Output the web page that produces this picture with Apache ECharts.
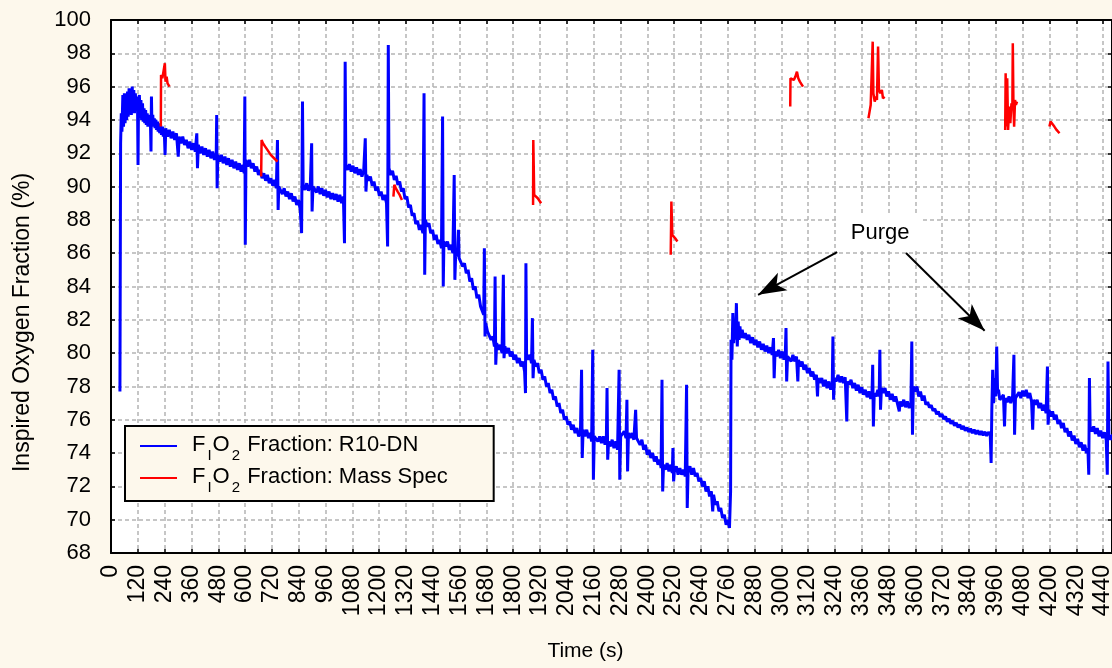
<!DOCTYPE html>
<html>
<head>
<meta charset="utf-8">
<title>Inspired Oxygen Fraction</title>
<script src="https://cdn.jsdelivr.net/npm/echarts@6.0.0/dist/echarts.min.js"></script>
<style>
  html, body { margin: 0; padding: 0; background: #fdf8ec; }
  #chart { width: 1112px; height: 668px; }
</style>
</head>
<body>
<div id="chart"></div>
<script>
const FONT = '"Liberation Sans", Arial, Helvetica, sans-serif';
const BG = '#fdf8ec';

// axis ranges
const X_MIN = 0, X_MAX = 4480, X_STEP = 120;
const Y_MIN = 68, Y_MAX = 100, Y_STEP = 2;

const seriesNames = ['R10-DN', 'Mass Spec'];

// FIO2 from the R10-DN sensor: [time (s), fraction (%)]
const r10dn = [
  [40,77.7],[43,92.6],[46,94.4],[49,93.3],[53,95.5],[56,93.6],[60,95.6],[63,93.8],[67,95.2],[70,94.0],
  [74,95.7],[77,94.2],[81,95.9],[84,94.5],[88,95.7],[91,94.3],[95,96.0],[98,94.6],[102,95.8],[105,94.4],
  [109,95.6],[112,94.7],[116,95.4],[119,94.5],[121,91.3],[123,94.8],[127,95.5],[130,94.1],[134,95.2],[137,94.0],
  [141,95.0],[144,93.9],[148,94.7],[151,93.8],[155,94.6],[158,93.7],[162,94.4],[165,93.6],[169,94.3],[172,93.9],
  [176,94.2],[179,92.1],[181,95.4],[183,93.8],[187,94.3],[190,93.6],[194,94.1],[197,93.5],[201,94.0],[204,93.4],
  [208,93.9],[211,93.3],[215,93.8],[218,93.2],[222,93.7],[226,93.1],[230,93.6],[234,93.0],[238,93.5],[242,91.9],
  [245,93.5],[253,93.0],[261,93.4],[269,92.9],[277,93.3],[285,92.8],[293,93.2],[301,91.8],[305,93.0],[313,92.6],
  [321,93.0],[329,92.5],[337,92.8],[345,92.3],[353,92.7],[361,92.2],[369,92.6],[377,92.1],[384,93.2],[387,91.1],
  [391,92.5],[399,92.0],[407,92.4],[415,91.9],[423,92.3],[431,91.8],[439,92.2],[447,91.7],[455,92.1],[463,91.6],
  [471,92.0],[473,94.3],[475,89.9],[478,91.9],[486,91.5],[494,91.9],[502,91.4],[510,91.8],[518,91.3],[526,91.7],
  [534,91.2],[542,91.6],[550,91.1],[558,91.5],[566,91.0],[574,91.4],[582,90.9],[590,91.3],[596,90.8],[599,95.4],
  [601,86.5],[604,91.6],[612,91.2],[620,91.6],[628,91.1],[636,91.4],[644,90.9],[652,91.2],[660,90.7],[668,91.0],
  [676,90.5],[684,90.8],[692,90.35],[700,90.7],[708,90.2],[716,90.5],[724,90.05],[732,90.4],[740,89.9],[745,92.8],
  [748,88.6],[751,90.0],[759,90.05],[767,89.55],[775,89.9],[783,89.4],[791,89.7],[799,89.25],[807,89.6],[815,89.1],
  [823,89.4],[831,88.9],[839,89.2],[847,88.6],[853,87.2],[857,95.1],[860,90.1],[868,89.8],[876,90.2],[884,89.75],
  [892,90.1],[898,92.6],[900,88.5],[904,90.0],[912,90.1],[920,89.65],[928,90.0],[936,89.55],[944,89.9],[952,89.45],
  [960,89.8],[968,89.35],[976,89.7],[984,89.25],[992,89.6],[1000,89.2],[1008,89.55],[1016,89.1],[1024,89.5],[1032,89.0],
  [1040,89.4],[1045,86.6],[1048,97.5],[1051,91.3],[1059,91.0],[1067,91.35],[1075,90.9],[1083,91.25],[1091,90.8],[1099,91.15],
  [1107,90.7],[1115,91.05],[1123,90.6],[1131,90.95],[1138,92.9],[1141,89.7],[1145,90.7],[1153,90.35],[1161,90.6],[1169,90.05],
  [1177,90.3],[1185,89.75],[1193,90.0],[1201,89.45],[1209,89.7],[1217,89.2],[1225,89.5],[1233,89.0],[1238,86.4],[1241,98.5],
  [1244,91.1],[1252,90.7],[1260,90.95],[1268,90.4],[1276,90.65],[1284,90.1],[1292,90.3],[1300,89.7],[1308,89.9],[1316,89.25],
  [1324,89.4],[1332,88.75],[1340,88.9],[1348,88.25],[1356,88.4],[1364,87.75],[1372,87.95],[1380,87.4],[1388,87.7],[1396,87.2],
  [1401,95.6],[1404,84.7],[1407,88.0],[1415,87.6],[1423,87.8],[1431,87.2],[1439,87.4],[1447,86.8],[1455,87.1],[1463,86.55],
  [1471,86.8],[1479,86.3],[1484,94.2],[1487,84.0],[1490,86.7],[1498,86.4],[1506,86.7],[1514,86.2],[1522,86.5],[1530,86.0],
  [1536,90.7],[1539,84.4],[1543,86.1],[1550,85.8],[1555,87.4],[1558,85.7],[1566,85.8],[1574,85.2],[1582,85.4],[1590,84.8],
  [1598,85.0],[1606,84.3],[1614,84.5],[1622,83.8],[1630,84.0],[1638,83.3],[1646,83.5],[1654,82.8],[1662,82.9],[1668,82.3],
  [1671,86.3],[1674,81.0],[1677,81.8],[1685,81.3],[1693,81.4],[1701,80.8],[1709,81.0],[1716,80.4],[1719,84.6],[1722,79.3],
  [1726,80.6],[1734,80.2],[1742,80.5],[1750,80.0],[1756,84.7],[1759,79.7],[1763,80.4],[1771,80.0],[1779,80.3],[1787,79.8],
  [1795,80.1],[1803,79.6],[1811,79.9],[1819,79.4],[1827,79.7],[1835,79.2],[1843,79.5],[1851,78.9],[1855,77.6],[1857,85.4],
  [1860,79.9],[1867,79.6],[1875,79.9],[1882,79.4],[1886,82.1],[1889,78.5],[1893,79.6],[1901,79.2],[1909,79.4],[1917,78.8],
  [1925,79.0],[1933,78.4],[1941,78.6],[1949,78.0],[1957,78.2],[1965,77.6],[1973,77.8],[1981,77.2],[1989,77.4],[1997,76.8],
  [2005,77.0],[2013,76.4],[2021,76.6],[2029,76.0],[2037,76.2],[2045,75.7],[2053,75.9],[2061,75.4],[2069,75.7],[2077,75.2],
  [2085,75.5],[2093,75.0],[2101,75.3],[2106,79.0],[2109,73.7],[2113,75.4],[2121,75.0],[2129,75.4],[2137,74.9],[2145,75.2],
  [2151,74.7],[2156,80.2],[2159,72.4],[2163,75.0],[2171,75.1],[2179,74.7],[2187,75.0],[2195,74.6],[2203,75.0],[2211,74.5],
  [2217,74.9],[2220,77.9],[2223,73.6],[2227,74.7],[2235,74.4],[2243,74.8],[2251,74.3],[2259,74.7],[2267,74.2],[2274,79.0],
  [2277,72.4],[2281,75.0],[2289,74.9],[2297,75.3],[2305,74.9],[2309,77.2],[2312,72.9],[2316,75.2],[2324,74.9],[2332,75.2],
  [2340,74.8],[2348,76.6],[2352,74.9],[2360,75.0],[2368,74.5],[2376,74.8],[2384,74.2],[2392,74.5],[2400,73.9],[2408,74.2],
  [2416,73.7],[2424,74.0],[2432,73.5],[2440,73.8],[2448,73.3],[2456,73.6],[2462,73.1],[2466,78.4],[2469,71.7],[2473,73.3],
  [2481,73.0],[2489,73.4],[2497,72.9],[2505,73.3],[2512,72.8],[2515,74.3],[2518,72.3],[2522,73.0],[2530,73.2],[2538,72.7],
  [2546,73.1],[2554,72.7],[2562,73.0],[2570,72.6],[2576,78.1],[2579,70.7],[2583,73.0],[2591,73.2],[2599,72.7],[2607,73.1],
  [2615,72.6],[2623,72.8],[2631,72.3],[2639,72.5],[2647,72.0],[2655,72.3],[2663,71.7],[2671,72.0],[2679,71.4],[2687,71.7],
  [2693,70.5],[2697,71.5],[2705,70.9],[2713,71.1],[2721,70.5],[2729,70.7],[2737,70.1],[2745,70.3],[2753,69.7],[2761,70.0],
  [2768,69.5],[2771,69.4],[2773,71.7],[2775,80.8],[2779,79.6],[2783,82.4],[2787,80.6],[2791,82.0],[2795,80.8],[2799,83.0],
  [2803,80.4],[2807,81.9],[2811,80.8],[2815,81.6],[2819,80.9],[2825,81.4],[2831,80.9],[2839,81.2],[2847,80.8],[2855,81.1],
  [2863,80.6],[2871,80.95],[2879,80.5],[2887,80.8],[2895,80.35],[2903,80.7],[2911,80.2],[2919,80.55],[2927,80.1],[2935,80.45],
  [2943,80.0],[2951,80.35],[2959,79.9],[2965,80.9],[2968,78.5],[2972,80.1],[2980,79.8],[2988,80.2],[2996,79.7],[3004,80.1],
  [3012,79.6],[3018,80.0],[3021,81.5],[3024,78.3],[3028,79.8],[3036,79.9],[3044,79.5],[3052,79.9],[3060,79.5],[3068,79.8],
  [3074,78.3],[3077,79.6],[3085,79.2],[3093,79.5],[3101,79.0],[3109,79.3],[3117,78.8],[3125,79.1],[3133,78.6],[3141,78.9],
  [3149,78.4],[3157,78.7],[3162,77.4],[3165,78.5],[3173,78.2],[3181,78.5],[3189,78.0],[3197,78.4],[3205,77.9],[3213,78.3],
  [3221,77.8],[3228,78.2],[3231,81.0],[3234,77.2],[3238,78.5],[3246,78.3],[3254,78.7],[3262,78.25],[3270,78.6],[3278,78.2],
  [3286,78.55],[3293,75.9],[3296,78.3],[3304,78.1],[3312,78.4],[3320,77.9],[3328,78.2],[3336,77.75],[3344,78.1],[3352,77.6],
  [3360,77.95],[3368,77.5],[3376,77.8],[3384,77.35],[3392,77.7],[3400,77.25],[3406,77.6],[3409,79.3],[3412,75.6],[3416,77.6],
  [3424,77.4],[3432,77.8],[3438,77.4],[3441,80.2],[3444,76.6],[3448,77.9],[3456,77.6],[3464,77.9],[3472,77.4],[3480,77.7],
  [3488,77.2],[3496,77.55],[3504,77.1],[3512,77.4],[3520,76.95],[3528,76.5],[3532,77.1],[3540,76.8],[3548,77.2],[3556,76.75],
  [3564,77.1],[3572,76.7],[3580,77.0],[3584,80.7],[3587,75.1],[3591,78.0],[3599,77.7],[3607,78.0],[3615,77.4],[3623,77.7],
  [3631,77.15],[3639,77.45],[3647,76.9],[3655,77.07],[3663,76.73],[3671,76.87],[3679,76.53],[3687,76.67],[3695,76.33],[3703,76.49],
  [3711,76.18],[3719,76.34],[3727,76.03],[3735,76.2],[3743,75.88],[3751,76.06],[3759,75.76],[3767,75.94],[3775,75.64],[3783,75.82],
  [3791,75.53],[3799,75.72],[3807,75.43],[3815,75.62],[3823,75.34],[3831,75.54],[3839,75.26],[3847,75.47],[3855,75.2],[3863,75.41],
  [3871,75.14],[3879,75.36],[3887,75.1],[3895,75.32],[3903,75.06],[3911,75.28],[3919,75.03],[3927,75.26],[3935,75.1],[3939,73.4],
  [3942,76.5],[3946,79.0],[3950,77.0],[3955,78.5],[3960,77.4],[3964,80.4],[3968,77.6],[3972,77.8],[3978,77.2],[3986,77.1],
  [3994,77.5],[3999,75.6],[4003,77.3],[4011,77.05],[4019,77.4],[4027,77.0],[4035,77.4],[4041,79.9],[4044,75.1],[4048,77.3],
  [4056,77.2],[4064,77.65],[4072,77.3],[4080,77.75],[4088,77.4],[4096,77.8],[4104,77.3],[4112,77.6],[4120,77.1],[4125,75.4],
  [4129,77.2],[4137,76.9],[4145,77.2],[4153,76.7],[4161,77.0],[4169,76.55],[4177,76.9],[4185,76.4],[4191,79.2],[4194,75.7],
  [4198,76.6],[4206,76.2],[4214,76.5],[4222,76.0],[4230,76.3],[4238,75.75],[4246,76.0],[4254,75.5],[4262,75.8],[4270,75.25],
  [4278,75.5],[4286,75.0],[4294,75.3],[4302,74.75],[4310,75.05],[4318,74.55],[4326,74.85],[4334,74.35],[4342,74.65],[4350,74.15],
  [4358,74.5],[4366,74.0],[4372,74.3],[4376,72.7],[4379,78.5],[4382,75.6],[4390,75.3],[4398,75.6],[4406,75.15],[4414,75.5],
  [4422,75.0],[4430,75.35],[4438,74.9],[4446,75.25],[4454,74.8],[4459,72.7],[4462,79.5],[4466,75.1],[4474,74.8],[4482,75.1],
  [4490,74.8]
];

// FIO2 from the mass spectrometer, sampled in short bursts ('-' breaks the line)
const massSpec = [
  [223,93.6],[224,96.7],[230,96.5],[235,96.6],[238,96.4],[241,97.4],[244,96.3],[249,96.6],[253,96.2],[258,96.3],[262,96.0],
  [263,'-'],
  [672,90.6],[674,92.8],[680,92.6],[690,92.4],[700,92.2],[715,91.9],[730,91.7],[745,91.5],
  [746,'-'],
  [1264,89.4],[1268,90.1],[1275,89.9],[1283,89.7],[1292,89.5],[1302,89.2],
  [1303,'-'],
  [1889,88.9],[1890,92.8],[1894,89.5],[1900,89.6],[1910,89.3],[1925,89.0],
  [1926,'-'],
  [2505,85.9],[2508,89.1],[2512,87.1],[2518,87.1],[2525,86.9],[2535,86.7],
  [2536,'-'],
  [3040,94.8],[3041,96.5],[3048,96.5],[3056,96.4],[3063,96.6],[3070,96.9],[3076,96.5],[3083,96.3],[3090,96.2],[3097,96.0],
  [3098,'-'],
  [3390,94.1],[3395,94.5],[3400,94.9],[3405,95.0],[3409,98.7],[3412,95.6],[3418,95.1],[3424,95.4],[3428,95.2],[3433,98.4],
  [3437,95.8],[3443,95.6],[3450,95.8],[3455,95.3],[3462,95.4],
  [3463,'-'],
  [4002,93.4],[4004,96.8],[4007,93.6],[4011,96.5],[4015,93.4],[4020,94.8],[4025,93.8],[4030,95.0],[4034,94.6],[4036,98.6],
  [4039,94.8],[4042,93.6],[4046,95.2],[4050,94.9],[4055,95.1],
  [4056,'-'],
  [4200,93.6],[4205,93.9],[4212,93.8],[4222,93.6],[4232,93.4],[4245,93.2]
];

// "Purge" annotation: label position and arrows [tail, arrow head centre] in data units
const purgeLabel = [3442, 87.23];
const purgeArrows = [
  [[3250, 86.07], [2896, 83.5]],
  [[3558, 86.01], [3910, 81.34]]
];

const chart = echarts.init(document.getElementById('chart'));

const axisText = { color: '#000', fontFamily: FONT };
const frameLine = { show: true, onZero: false, lineStyle: { color: '#000', width: 2 } };
const innerTick = { show: true, inside: true, length: 4, lineStyle: { color: '#000', width: 1.5 } };
const gridDash = { show: true, lineStyle: { color: '#b4b4b4', width: 1.5, type: [4, 3] } };
const txt = { fontFamily: FONT, color: '#000' };

const option = {
  backgroundColor: BG,
  animation: false,
  grid: {
    left: 111, top: 20, right: 0, bottom: 115,
    show: true, backgroundColor: '#fff', borderWidth: 0,
    containLabel: false, outerBoundsMode: 'none'
  },
  legend: {
    data: seriesNames.map(name => ({ name, icon: 'rect' })),
    orient: 'vertical',
    left: 125, top: 426,
    itemWidth: 37, itemHeight: 2, itemGap: -2,
    padding: [3, 46, 6, 15],
    borderColor: '#000', borderWidth: 2, borderRadius: 0,
    backgroundColor: BG,
    selectedMode: false,
    formatter: name => `{f|F}{s|I}{m|O}{s|2}{m| Fraction: ${name}}`,
    textStyle: {
      rich: {
        f: { ...txt, fontSize: 22, lineHeight: 28, verticalAlign: 'top', padding: [2, 0, 0, 10] },
        m: { ...txt, fontSize: 22, lineHeight: 28, verticalAlign: 'top', padding: [2, 0, 0, 0] },
        s: { ...txt, fontSize: 15, lineHeight: 15, padding: [19, 1, 0, 2] }
      }
    }
  },
  xAxis: [{
    type: 'value',
    min: X_MIN, max: X_MAX, interval: X_STEP,
    name: 'Time (s)',
    nameLocation: 'middle',
    nameGap: 88,
    nameMoveOverlap: false,
    nameTextStyle: { ...axisText, fontSize: 21, padding: [0, 52, 0, 0] },
    axisLine: frameLine,
    axisTick: innerTick,
    axisLabel: { ...axisText, fontSize: 23, rotate: 90, margin: 12, showMaxLabel: false, formatter: v => String(v) },
    splitLine: gridDash
  }, {
    type: 'value', position: 'top',
    min: X_MIN, max: X_MAX, interval: X_STEP,
    axisLine: frameLine,
    axisTick: innerTick,
    axisLabel: { show: false },
    splitLine: { show: false }
  }],
  yAxis: [{
    type: 'value',
    min: Y_MIN, max: Y_MAX, interval: Y_STEP,
    name: 'Inspired Oxygen Fraction (%)',
    nameLocation: 'middle',
    nameGap: 77,
    nameMoveOverlap: false,
    nameTextStyle: { ...axisText, fontSize: 23, padding: [0, 72, 0, 0] },
    axisLine: frameLine,
    axisTick: innerTick,
    axisLabel: { ...axisText, fontSize: 22, margin: 20 },
    splitLine: gridDash
  }, {
    type: 'value', position: 'right',
    min: Y_MIN, max: Y_MAX, interval: Y_STEP,
    axisLine: frameLine,
    axisTick: innerTick,
    axisLabel: { show: false },
    splitLine: { show: false }
  }],
  series: [{
    name: seriesNames[0],
    type: 'line',
    data: r10dn,
    symbol: 'none',
    showSymbol: false,
    lineStyle: { color: '#0000ff', width: 3 },
    itemStyle: { color: '#0000ff' },
    z: 2,
    markLine: {
      silent: true,
      symbol: ['none', 'arrow'],
      label: { show: false },
      lineStyle: { color: '#000', width: 2, type: 'solid' },
      emphasis: { disabled: true },
      data: purgeArrows.map(([from, to]) => [
        { coord: from, symbol: 'none' },
        { coord: to, symbol: 'arrow', symbolSize: [15, 28] }
      ])
    },
    markPoint: {
      silent: true,
      data: [{
        coord: purgeLabel,
        symbol: 'rect',
        symbolSize: 1,
        itemStyle: { color: 'rgba(0,0,0,0)' },
        label: {
          show: true,
          position: 'inside',
          formatter: 'Purge',
          ...txt,
          fontSize: 22,
          backgroundColor: '#fff',
          padding: [7, 13, 7, 13]
        }
      }]
    }
  }, {
    name: seriesNames[1],
    type: 'line',
    data: massSpec,
    symbol: 'none',
    showSymbol: false,
    connectNulls: false,
    lineStyle: { color: '#ff0000', width: 2.5 },
    itemStyle: { color: '#ff0000' },
    z: 3
  }]
};

chart.setOption(option);
</script>
</body>
</html>
